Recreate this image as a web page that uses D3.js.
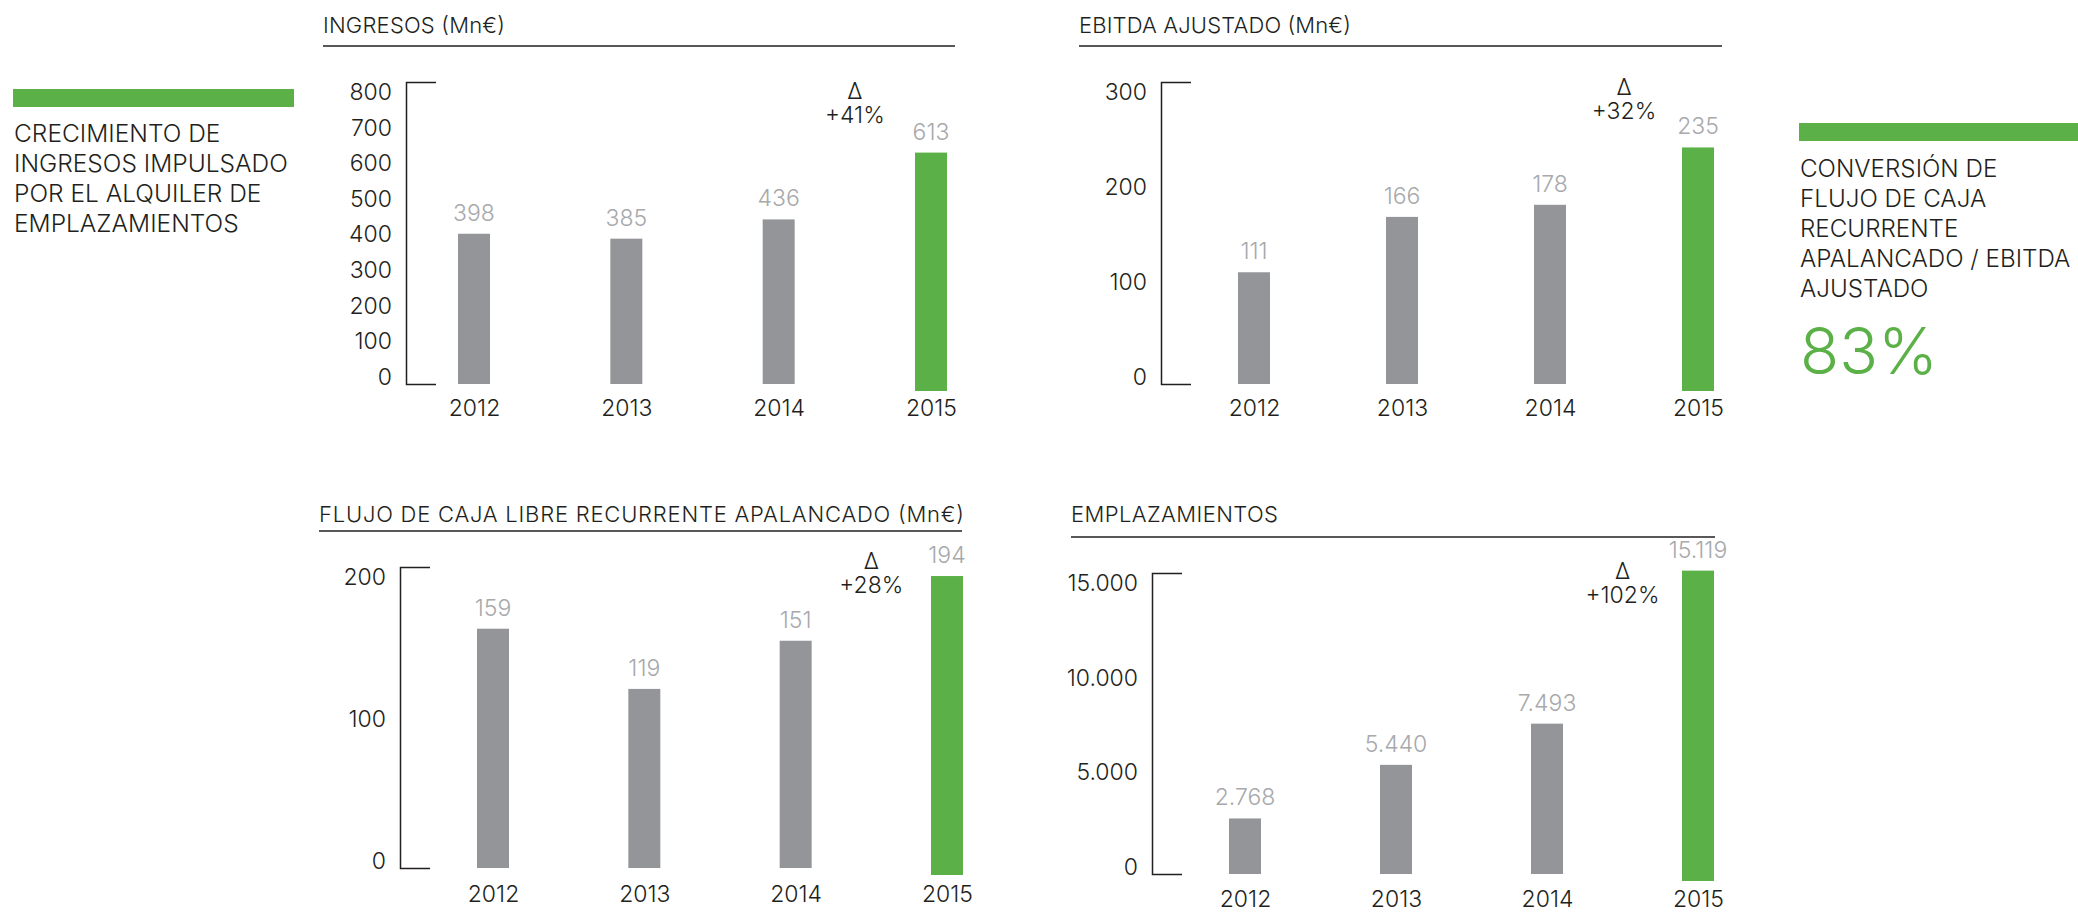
<!DOCTYPE html>
<html>
<head>
<meta charset="utf-8">
<script src="https://cdn.jsdelivr.net/npm/d3@7"></script>
<style>
  body { margin: 0; background: #fff; }
  svg { display: block; }
  svg text { font-family: Inter, Roboto, "Liberation Sans", sans-serif; font-weight: 300; }
</style>
</head>
<body>
<svg id="chart" width="2078" height="916"></svg>
<script>
// datos
const years = ['2012', '2013', '2014', '2015'];
const ingresos = [398, 385, 436, 613];
const ebitda = [111, 166, 178, 235];
const flujoCaja = [159, 119, 151, 194];
const emplazamientos = [2768, 5440, 7493, 15119];

const ingresosTicks = [0, 100, 200, 300, 400, 500, 600, 700, 800];
const ebitdaTicks = [0, 100, 200, 300];
const flujoTicks = [0, 100, 200];
const emplazTicks = [0, 5000, 10000, 15000];

const deltas = ['+41%', '+32%', '+28%', '+102%'];
const titles = [
  'INGRESOS (Mn€)',
  'EBITDA AJUSTADO (Mn€)',
  'FLUJO DE CAJA LIBRE RECURRENTE APALANCADO (Mn€)',
  'EMPLAZAMIENTOS'
];

const leftNote = ['CRECIMIENTO DE', 'INGRESOS IMPULSADO', 'POR EL ALQUILER DE', 'EMPLAZAMIENTOS'];
const rightNote = ['CONVERSIÓN DE', 'FLUJO DE CAJA', 'RECURRENTE', 'APALANCADO / EBITDA', 'AJUSTADO'];
const conversion = '83%';

// colores
const GREEN = '#5bb147';
const GREY = '#939598';
const LABEL = '#a7a9ac';
const INK = '#231f20';
const FS = 23;

const es = d3.formatLocale({ decimal: ',', thousands: '.', grouping: [3], currency: ['', '€'] });
const fmt = es.format(',');

const svg = d3.select('#chart');

// posiciones de cada panel (en px); tw = ancho del título en el original
const panels = [
  { title: titles[0], values: ingresos, ticks: ingresosTicks, delta: deltas[0],
    tx: 323, ty: 33, tw: 182, lineY: 46, lineX2: 955,
    ax: 406, top: 82, bottom: 384, x0: 474, x1: 931, deltaY: 91, yearGap: 16 },
  { title: titles[1], values: ebitda, ticks: ebitdaTicks, delta: deltas[1],
    tx: 1079, ty: 33, tw: 272, lineY: 46, lineX2: 1722,
    ax: 1161, top: 82, bottom: 384, x0: 1254, x1: 1698, deltaY: 87, yearGap: 16 },
  { title: titles[2], values: flujoCaja, ticks: flujoTicks, delta: deltas[2],
    tx: 319, ty: 522, tw: 645, lineY: 531, lineX2: 962,
    ax: 400, top: 567, bottom: 868, x0: 493, x1: 947, deltaY: 561, yearGap: 18 },
  { title: titles[3], values: emplazamientos, ticks: emplazTicks, delta: deltas[3],
    tx: 1071, ty: 522, tw: 207, lineY: 537, lineX2: 1715,
    ax: 1152, top: 573, bottom: 874, x0: 1245, x1: 1698, deltaY: 571, yearGap: 17 }
];

// el eje de d3 pone su propia fuente en el <g>; se la quitamos
const plainAxis = s => {
  s.attr('font-family', null).attr('font-size', null);
  s.select('.domain').remove();
  s.selectAll('text').attr('font-size', FS).attr('fill', INK);
};

const drawPanel = p => {
  const g = svg.append('g');
  const maxTick = d3.max(p.ticks);

  const y = d3.scaleLinear().domain([0, maxTick]).range([p.bottom, p.top]);
  const x = d3.scalePoint().domain(years).range([p.x0, p.x1]);

  // título y subrayado
  g.append('text')
    .attr('x', p.tx).attr('y', p.ty)
    .attr('font-size', 22).attr('fill', INK)
    .attr('textLength', p.tw).attr('lengthAdjust', 'spacing')
    .text(p.title);
  g.append('line')
    .attr('x1', p.tx).attr('x2', p.lineX2)
    .attr('y1', p.lineY).attr('y2', p.lineY)
    .attr('stroke', INK).attr('stroke-width', 1.5);

  // corchete del eje: el dominio de un axisRight con ticks exteriores largos
  g.append('g')
    .attr('transform', `translate(${p.ax},0)`)
    .call(d3.axisRight(y).tickValues([]).tickSizeOuter(30))
    .call(s => s.select('.domain').attr('stroke', INK).attr('stroke-width', 1.5));

  // etiquetas del eje, algo metidas hacia dentro como en el original
  const yLab = y.copy().range([p.bottom - 7, p.top + 10]);
  g.append('g')
    .attr('transform', `translate(${p.ax},0)`)
    .call(d3.axisLeft(yLab).tickValues(p.ticks).tickSize(0).tickPadding(14).tickFormat(fmt))
    .call(plainAxis);

  // barras
  const last = years.length - 1;
  g.selectAll('rect.bar')
    .data(p.values)
    .join('rect')
    .attr('class', 'bar')
    .attr('x', (d, i) => x(years[i]) - 16)
    .attr('width', 32)
    .attr('y', d => y(d))
    .attr('height', (d, i) => y(0) - y(d) + (i === last ? 7 : 0))
    .attr('fill', (d, i) => (i === last ? GREEN : GREY));

  // valores
  g.selectAll('text.val')
    .data(p.values)
    .join('text')
    .attr('class', 'val')
    .attr('x', (d, i) => x(years[i]))
    .attr('y', d => y(d) - 13)
    .attr('text-anchor', 'middle')
    .attr('font-size', FS).attr('fill', LABEL)
    .text(d => fmt(d));

  // años
  g.append('g')
    .attr('transform', `translate(0,${p.bottom})`)
    .call(d3.axisBottom(x).tickSize(0).tickPadding(p.yearGap))
    .call(plainAxis);

  // variación
  const dx = (x(years[last - 1]) + x(years[last])) / 2;
  g.append('text')
    .attr('x', dx).attr('y', p.deltaY + 8)
    .attr('text-anchor', 'middle')
    .attr('font-size', FS).attr('fill', INK)
    .text('Δ');
  g.append('text')
    .attr('x', dx).attr('y', p.deltaY + 32)
    .attr('text-anchor', 'middle')
    .attr('font-size', FS).attr('fill', INK)
    .text(p.delta);
};

panels.forEach(drawPanel);

// nota izquierda
svg.append('rect')
  .attr('x', 13).attr('y', 89).attr('width', 281).attr('height', 18)
  .attr('fill', GREEN);
svg.append('g')
  .selectAll('text')
  .data(leftNote)
  .join('text')
  .attr('x', 14)
  .attr('y', (d, i) => 142 + i * 30)
  .attr('font-size', 24.5).attr('fill', INK)
  .text(d => d);

// nota derecha
svg.append('rect')
  .attr('x', 1799).attr('y', 123).attr('width', 279).attr('height', 18)
  .attr('fill', GREEN);
svg.append('g')
  .selectAll('text')
  .data(rightNote)
  .join('text')
  .attr('x', 1800)
  .attr('y', (d, i) => 177 + i * 30)
  .attr('font-size', 24.2).attr('fill', INK)
  .text(d => d);
svg.append('text')
  .attr('x', 1800).attr('y', 374)
  .attr('font-size', 64).attr('fill', GREEN)
  .text(conversion);
</script>
</body>
</html>
